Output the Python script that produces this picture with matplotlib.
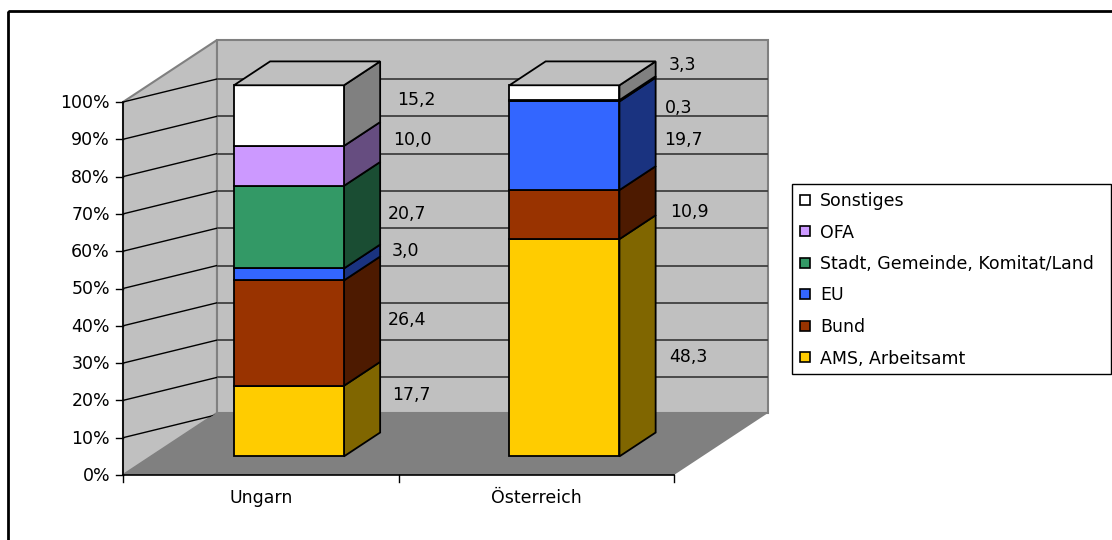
import matplotlib
matplotlib.use("Agg")
import matplotlib.pyplot as plt
from matplotlib.patches import Polygon, Rectangle
import matplotlib.transforms as mtransforms

# ---- data -----------------------------------------------------------------
countries = ["Ungarn", "Österreich"]
series = ["AMS, Arbeitsamt", "Bund", "EU",
          "Stadt, Gemeinde, Komitat/Land", "OFA", "Sonstiges"]
ungarn = [17.7, 26.4, 3.0, 20.7, 10.0, 15.2]
oesterreich = [48.3, 10.9, 19.7, None, 0.3, 3.3]
pct_ticks = [0, 10, 20, 30, 40, 50, 60, 70, 80, 90, 100]

# ---- style ----------------------------------------------------------------
face_colors = ["#FFCC00", "#993300", "#3366FF", "#339966", "#CC99FF", "#FFFFFF"]
WALL = "#C0C0C0"
FLOOR = "#808080"
EDGE_GRAY = "#808080"
FONT = 12.5

# value-label placement (pixels) relative to the middle of each segment's
# back-right edge; positive dy moves the label up
label_nudge = {
    "Ungarn": [(31.5, 16.0), (26.5, 2.6), (25.0, 12.6),
               (26.5, 2.4), (32.5, 15.8), (36.5, 5.3)],
    "Österreich": [(32.5, -19.7), (33.5, -7.5), (27.5, -4.4),
                   (0.0, 0.0), (23.0, -17.9), (26.5, 17.3)],
}

W, H = 1112, 540
PX_U = 275.5          # pixels per category slot
PX_P = 3.73           # pixels per percent
X0, Y0 = 123, 475     # front origin of the value axis (pixels)
DU = 94 / PX_U        # full depth, horizontal component (category units)
DP = 62 / PX_P        # full depth, vertical component (percent units)
GRID_DP = 23 / PX_P   # vertical shift of gridlines towards the back wall
BAR_HALF = 55 / PX_U
BAR_SCALE = 0.995     # column height relative to the wall height
D_FRONT, D_BACK = 0.30, 0.685

fig = plt.figure(figsize=(W / 100, H / 100), dpi=100)
ax = fig.add_axes([0, 0, 1, 1])
ax.set_xlim(-X0 / PX_U, (W - X0) / PX_U)
ax.set_ylim((Y0 - H) / PX_P, Y0 / PX_P)
ax.set_axis_off()

# pixel coordinates with y pointing down, for the frame and the legend
px = mtransforms.Affine2D().scale(1 / W, -1 / H).translate(0, 1) + fig.transFigure

n_cat = len(countries)


def proj(u, p, d):
    return (u + d * DU, p + d * DP)


# ---- walls, floor, gridlines ---------------------------------------------
left_wall = Polygon([proj(0, 0, 0), proj(0, 100, 0), proj(0, 100, 1), proj(0, 0, 1)],
                    closed=True, facecolor=WALL, edgecolor=EDGE_GRAY, lw=1.5, zorder=1)
back_wall = Polygon([proj(0, 0, 1), proj(0, 100, 1), proj(n_cat, 100, 1), proj(n_cat, 0, 1)],
                    closed=True, facecolor=WALL, edgecolor=EDGE_GRAY, lw=1.5, zorder=1)
ax.add_patch(left_wall)
ax.add_patch(back_wall)

for p in pct_ticks[1:]:
    gl, = ax.plot([0, DU], [p, p + GRID_DP], color="black", lw=1.0, zorder=2)
    gl.set_clip_path(left_wall)
    gb, = ax.plot([DU, n_cat + DU], [p + GRID_DP, p + GRID_DP],
                  color="#404040", lw=1.3, zorder=2)
    gb.set_clip_path(back_wall)

floor = Polygon([proj(0, 0, 0), proj(n_cat, 0, 0), proj(n_cat, 0, 1), proj(0, 0, 1)],
                closed=True, facecolor=FLOOR, edgecolor="none", zorder=3)
ax.add_patch(floor)

# value axis and category axis lines
ax.plot([0, 0], [0, 100], color="black", lw=1.2, zorder=4)
ax.plot([0, n_cat], [0, 0], color="black", lw=1.2, zorder=4)
tick_u = 7 / PX_U
tick_p = 7 / PX_P
for p in pct_ticks:
    ax.plot([-tick_u, 0], [p, p], color="black", lw=1.0, zorder=4)
    ax.annotate(f"{p}%", xy=(0, p), xytext=(-13, -6), textcoords="offset pixels",
                ha="right", va="baseline", fontsize=FONT, color="black")
for i in range(n_cat + 1):
    ax.plot([i, i], [0, -tick_p], color="black", lw=1.0, zorder=4)
for i, name in enumerate(countries):
    ax.annotate(name, xy=(i + 0.5, 0), xytext=(0, -28), textcoords="offset pixels",
                ha="center", va="baseline", fontsize=FONT, color="black")


# ---- stacked 3D columns ---------------------------------------------------
def shade(hex_color, f):
    r, g, b = matplotlib.colors.to_rgb(hex_color)
    return (r * f, g * f, b * f)


values = {"Ungarn": ungarn, "Österreich": oesterreich}
CAP_HALF = 6.5
for i, name in enumerate(countries):
    vals = [0.0 if v is None else v for v in values[name]]
    total = sum(vals)
    uL = i + 0.5 - BAR_HALF
    uR = i + 0.5 + BAR_HALF
    bottom = 0.0
    last_top = 0
    for k, v in enumerate(vals):
        if v <= 0:
            continue
        h = 100.0 * BAR_SCALE * v / total
        b, t = bottom, bottom + h
        front = Polygon([proj(uL, b, D_FRONT), proj(uR, b, D_FRONT),
                         proj(uR, t, D_FRONT), proj(uL, t, D_FRONT)],
                        closed=True, facecolor=face_colors[k], edgecolor="black",
                        lw=1.3, zorder=6)
        side = Polygon([proj(uR, b, D_FRONT), proj(uR, b, D_BACK),
                        proj(uR, t, D_BACK), proj(uR, t, D_FRONT)],
                       closed=True, facecolor=shade(face_colors[k], 0.5),
                       edgecolor="black", lw=1.3, zorder=5)
        ax.add_patch(side)
        ax.add_patch(front)

        dx, dy = label_nudge[name][k]
        mid_p = proj(uR, (b + t) / 2, (D_FRONT + D_BACK) / 2)[1]
        anchor = (uR + D_BACK * DU, mid_p)
        ax.annotate(f"{v:.1f}".replace(".", ","), xy=anchor,
                    xytext=(dx, dy - CAP_HALF), textcoords="offset pixels",
                    ha="center", va="baseline", fontsize=FONT, color="black", zorder=8)
        bottom = t
        last_top = k
    top = Polygon([proj(uL, bottom, D_FRONT), proj(uR, bottom, D_FRONT),
                   proj(uR, bottom, D_BACK), proj(uL, bottom, D_BACK)],
                  closed=True, facecolor=shade(face_colors[last_top], 0.75),
                  edgecolor="black", lw=1.3, zorder=7)
    ax.add_patch(top)

# ---- chart frame ----------------------------------------------------------
fig.add_artist(Rectangle((7.5, 10.5), 1200, 600, transform=px, fill=False,
                         edgecolor="black", lw=2.0))

# ---- legend ---------------------------------------------------------------
fig.add_artist(Rectangle((792, 183.5), 319, 190, transform=px, facecolor="white",
                         edgecolor="black", lw=1.0))
for row, k in enumerate(reversed(range(len(series)))):
    yc = 199.5 + 31.5 * row
    fig.add_artist(Rectangle((799.5, yc - 5), 10, 10, transform=px,
                             facecolor=face_colors[k], edgecolor="black", lw=1.2))
    fig.text(820, yc + 6.5, series[k], transform=px, ha="left", va="baseline",
             fontsize=FONT, color="black")

fig.savefig("out.png", dpi=100, facecolor="white")
